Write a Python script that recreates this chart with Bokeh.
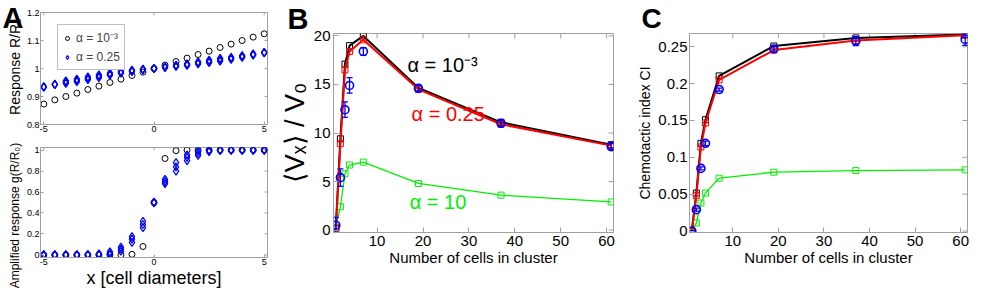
import math
from bokeh.plotting import figure
from bokeh.models import (Range1d, FixedTicker, Label, Legend, LegendItem,
                          Whisker, ColumnDataSource, TeeHead)
from bokeh.layouts import row, column
from bokeh.embed import file_html
from bokeh.resources import INLINE

# ---------------- data ----------------
# Panel A: positions along cluster (cell diameters)
a_x = [-5, -4.5, -4, -3.5, -3, -2.5, -2, -1.5, -1, -0.5, 0, 0.5, 1, 1.5, 2, 2.5, 3, 3.5, 4, 4.5, 5]
# Response R/R0, alpha = 1e-3
a_resp_black = [0.873, 0.888, 0.900, 0.912, 0.925, 0.937, 0.950, 0.962, 0.975, 0.987, 1.000,
                1.012, 1.025, 1.037, 1.050, 1.062, 1.075, 1.087, 1.100, 1.112, 1.124]
# Response R/R0, alpha = 0.25 (three realisations)
a_resp_blue_1 = [0.933, 0.942, 0.947, 0.953, 0.960, 0.967, 0.976, 0.983, 0.989, 0.995, 1.000,
                 1.003, 1.007, 1.011, 1.016, 1.021, 1.026, 1.032, 1.040, 1.048, 1.056]
a_resp_blue_2 = [0.934, 0.943, 0.951, 0.957, 0.965, 0.972, 0.980, 0.986, 0.991, 0.996, 1.000,
                 1.005, 1.009, 1.014, 1.020, 1.025, 1.031, 1.036, 1.043, 1.050, 1.057]
a_resp_blue_3 = [0.935, 0.944, 0.956, 0.962, 0.970, 0.977, 0.984, 0.990, 0.994, 0.998, 1.000,
                 1.007, 1.012, 1.017, 1.024, 1.030, 1.036, 1.040, 1.046, 1.052, 1.058]
# Amplified response g(R/R0)
a_amp_black = [0, 0, 0, 0, 0, 0, 0, 0, 0.005, 0.08, 0.5, 0.92, 0.995, 1, 1, 1, 1, 1, 1, 1, 1]
a_amp_blue_1 = [0, 0, 0, 0, 0, 0.002, 0.005, 0.035, 0.12, 0.26, 0.495, 0.68, 0.80, 0.90, 0.95,
                0.985, 0.997, 1, 1, 1, 1]
a_amp_blue_2 = [0, 0, 0, 0, 0, 0.005, 0.015, 0.055, 0.15, 0.29, 0.50, 0.70, 0.84, 0.93, 0.97,
                0.99, 0.999, 1, 1, 1, 1]
a_amp_blue_3 = [0, 0, 0, 0, 0.003, 0.01, 0.03, 0.075, 0.175, 0.32, 0.505, 0.72, 0.88, 0.955, 0.99,
                0.998, 1, 1, 1, 1, 1]
a_xticks = [-5, 0, 5]
a_xticklabels = ["-5", "0", "5"]
a_top_yticks = [0.8, 0.9, 1.0, 1.1, 1.2]
a_top_yticklabels = ["0.8", "0.9", "1", "1.1", "1.2"]
a_bot_yticks = [0, 0.2, 0.4, 0.6, 0.8, 1.0]
a_bot_yticklabels = ["0", "0.2", "0.4", "0.6", "0.8", "1"]

# Panels B and C: number of cells in cluster
n_cells = [1, 2, 3, 4, 7, 19, 37, 61]
vx_black = [0.2, 9.4, 17.1, 19.0, 20.0, 14.65, 11.1, 8.8]
vx_red = [0.1, 8.9, 16.5, 18.4, 19.6, 14.5, 10.9, 8.7]
vx_blue = [0.5, 5.4, 12.4, 14.9, 18.4, 14.6, 11.0, 8.6]
vx_blue_err = [0.8, 0.9, 0.8, 0.8, 0.4, 0.3, 0.3, 0.3]
vx_green = [0.3, 2.4, 5.8, 6.7, 7.0, 4.8, 3.6, 2.9]

ci_black = [0.0, 0.0515, 0.119, 0.151, 0.2105, 0.251, 0.262, 0.2665]
ci_red = [0.0, 0.048, 0.114, 0.1465, 0.205, 0.2455, 0.2586, 0.2655]
ci_blue = [0.0, 0.029, 0.085, 0.119, 0.192, 0.247, 0.2577, 0.260]
ci_blue_err = [0.001, 0.002, 0.002, 0.003, 0.002, 0.004, 0.006, 0.008]
ci_green = [0.0, 0.011, 0.038, 0.0515, 0.0717, 0.0798, 0.082, 0.083]

n_ticks = [10, 20, 30, 40, 50, 60]
n_ticklabels = ["10", "20", "30", "40", "50", "60"]
vx_ticks = [0, 5, 10, 15, 20]
vx_ticklabels = ["0", "5", "10", "15", "20"]
ci_ticks = [0, 0.05, 0.1, 0.15, 0.2, 0.25]
ci_ticklabels = ["0", "0.05", "0.1", "0.15", "0.2", "0.25"]

# ---------------- style ----------------
FONT = "Liberation Sans"
AX = "#a0a0a0"
BLACK, RED, BLUE, GREEN = "#000000", "#ff0000", "#0000ff", "#00f000"
TOTAL_W, TOTAL_H = 975, 292


class Panel:
    def __init__(self, w, h, left, right, top, bottom, xr, yr):
        self.fw = w - left - right
        self.fh = h - top - bottom
        self.xr, self.yr = xr, yr
        p = figure(width=w, height=h, min_border_left=left, min_border_right=right,
                   min_border_top=top, min_border_bottom=bottom,
                   x_range=Range1d(*xr), y_range=Range1d(*yr),
                   output_backend="svg", toolbar_location=None, tools="")
        p.title.visible = False
        p.xgrid.visible = False
        p.ygrid.visible = False
        p.outline_line_color = AX
        p.outline_line_width = 1
        p.background_fill_color = "white"
        p.border_fill_color = "white"
        self.p = p

    def mirror_ticks(self, xticks, yticks, L):
        dy = L / self.fh * (self.yr[1] - self.yr[0])
        dx = L / self.fw * (self.xr[1] - self.xr[0])
        top = self.yr[1]
        right = self.xr[1]
        self.p.segment(x0=xticks, y0=[top] * len(xticks), x1=xticks, y1=[top - dy] * len(xticks),
                       line_color=AX, line_width=1)
        self.p.segment(x0=[right] * len(yticks), y0=yticks, x1=[right - dx] * len(yticks), y1=yticks,
                       line_color=AX, line_width=1)


def style_axis(ax, ticks, labels, font_px, tick_len, standoff, label=None, label_px=None,
               label_standoff=0):
    ax.ticker = FixedTicker(ticks=ticks)
    ax.major_label_overrides = {t: l for t, l in zip(ticks, labels)}
    ax.major_label_text_font = FONT
    ax.major_label_text_font_size = font_px
    ax.major_label_text_color = "black"
    ax.major_label_standoff = standoff
    ax.major_tick_in = tick_len
    ax.major_tick_out = 0
    ax.minor_tick_line_color = None
    ax.axis_line_color = AX
    ax.major_tick_line_color = AX
    if label is not None:
        ax.axis_label = label
        ax.axis_label_text_font = FONT
        ax.axis_label_text_font_size = label_px
        ax.axis_label_text_font_style = "normal"
        ax.axis_label_text_color = "black"
        ax.axis_label_standoff = label_standoff


# ---------------- Panel A (top) ----------------
A1 = Panel(276, 140, 40, 9, 12, 16, (-5.15, 5.15), (0.8, 1.2))
pa1 = A1.p
style_axis(pa1.xaxis[0], a_xticks, a_xticklabels, "9px", 3, 1)
style_axis(pa1.yaxis[0], a_top_yticks, a_top_yticklabels, "9px", 3, 1)
A1.mirror_ticks(a_xticks, a_top_yticks, 3)
r_ab = pa1.scatter(a_x, a_resp_black, marker="circle", size=6, fill_color=None,
                   line_color=BLACK, line_width=1)
r_bl = None
for ys in (a_resp_blue_1, a_resp_blue_2, a_resp_blue_3):
    r = pa1.scatter(a_x, ys, marker="diamond", size=8, fill_color=None,
                    line_color=BLUE, line_width=1.2)
    if r_bl is None:
        r_bl = r
legend = Legend(items=[LegendItem(label="\u03b1 = 10\u207b\u00b3", renderers=[r_ab]),
                       LegendItem(label="\u03b1 = 0.25", renderers=[r_bl])],
                location=(17, 54), label_text_font=FONT, label_text_font_size="12px",
                label_height=16, glyph_height=14, glyph_width=10, label_standoff=4,
                padding=4, spacing=3, margin=0, border_line_color="#808080",
                border_line_width=1, background_fill_color="white")
pa1.add_layout(legend)

# ---------------- Panel A (bottom) ----------------
A2 = Panel(276, 152, 40, 9, 7, 35, (-5.15, 5.15), (-0.025, 1.025))
pa2 = A2.p
style_axis(pa2.xaxis[0], a_xticks, a_xticklabels, "9px", 3, 1,
           "x [cell diameters]", "18px", 0)
style_axis(pa2.yaxis[0], a_bot_yticks, a_bot_yticklabels, "9px", 3, 1)
A2.mirror_ticks(a_xticks, a_bot_yticks, 3)
pa2.scatter(a_x, a_amp_black, marker="circle", size=6, fill_color=None,
            line_color=BLACK, line_width=1)
for ys in (a_amp_blue_1, a_amp_blue_2, a_amp_blue_3):
    pa2.scatter(a_x, ys, marker="diamond", size=8, fill_color=None,
                line_color=BLUE, line_width=1.2)

# ---------------- Panel B ----------------
B = Panel(356, 292, 55, 19, 33, 60, (0.5, 61.5), (-0.25, 20.25))
pb = B.p
style_axis(pb.xaxis[0], n_ticks, n_ticklabels, "15px", 5, 3,
           "Number of cells in cluster", "15px", 0)
style_axis(pb.yaxis[0], vx_ticks, vx_ticklabels, "15px", 5, 3,
           "\u27e8V\u2093\u27e9 / V\u2080", "27px", 1)
B.mirror_ticks(n_ticks, vx_ticks, 5)


def series(p, x, y, color, lw):
    p.line(x, y, line_color=color, line_width=lw)
    p.scatter(x, y, marker="square", size=6, fill_color=None, line_color=color, line_width=1)


def blue_err(p, x, y, err):
    src = ColumnDataSource(dict(x=x, y=y,
                                lo=[v - e for v, e in zip(y, err)],
                                hi=[v + e for v, e in zip(y, err)]))
    p.add_layout(Whisker(source=src, base="x", upper="hi", lower="lo",
                         line_color=BLUE, line_width=1.3, level="glyph",
                         upper_head=TeeHead(size=6, line_color=BLUE, line_width=1.3),
                         lower_head=TeeHead(size=6, line_color=BLUE, line_width=1.3)))
    p.scatter("x", "y", source=src, marker="circle", size=8, fill_color=None,
              line_color=BLUE, line_width=1.6)


series(pb, n_cells, vx_green, GREEN, 1.3)
series(pb, n_cells, vx_black, BLACK, 2)
series(pb, n_cells, vx_red, RED, 2)
blue_err(pb, n_cells, vx_blue, vx_blue_err)

for txt, col, lx, ly in (("\u03b1 = 10\u207b\u00b3", BLACK, 16.6, 17.0),
                         ("\u03b1 = 0.25", RED, 17.5, 12.0),
                         ("\u03b1 = 10", GREEN, 17.1, 2.9)):
    pb.add_layout(Label(x=lx, y=ly, text=txt, text_color=col, text_font=FONT,
                        text_font_size="20px", text_align="left", text_baseline="middle"))

# ---------------- Panel C ----------------
C = Panel(343, 292, 57, 8, 33, 60, (0.5, 61.5), (-0.002, 0.268))
pc = C.p
style_axis(pc.xaxis[0], n_ticks, n_ticklabels, "15px", 5, 3,
           "Number of cells in cluster", "15px", 0)
style_axis(pc.yaxis[0], ci_ticks, ci_ticklabels, "15px", 5, 2,
           "Chemotactic index CI", "14px", 2)
C.mirror_ticks(n_ticks, ci_ticks, 5)
series(pc, n_cells, ci_green, GREEN, 1.3)
series(pc, n_cells, ci_black, BLACK, 2)
series(pc, n_cells, ci_red, RED, 2)
blue_err(pc, n_cells, ci_blue, ci_blue_err)

# ---------------- transparent overlay for panel letters & panel A y-labels ----------------
ov = figure(width=TOTAL_W, height=TOTAL_H, x_range=Range1d(0, TOTAL_W), y_range=Range1d(0, TOTAL_H),
            min_border=0, min_border_left=0, min_border_right=0, min_border_top=0,
            min_border_bottom=0, x_axis_location=None, y_axis_location=None,
            output_backend="svg", toolbar_location=None, tools="")
ov.title.visible = False
ov.xgrid.visible = False
ov.ygrid.visible = False
ov.outline_line_color = None
ov.background_fill_color = None
ov.border_fill_color = None
ov.margin = (-TOTAL_H, 0, 0, 0)


def ov_text(text, x_px, y_px, size, bold=False, angle=0.0, align="left"):
    # y_px is the vertical centre of the text, measured from the top
    ov.add_layout(Label(x=x_px, y=TOTAL_H - y_px, text=text, text_font=FONT, text_font_size=size,
                        text_font_style="bold" if bold else "normal", angle=angle,
                        text_align=align, text_baseline="middle", text_color="black"))


ov_text("A", 2, 17, "29px", bold=True)
ov_text("B", 287, 18, "29px", bold=True)
ov_text("C", 641, 18, "28px", bold=True)
ov_text("Response R/R\u2080", 14, 66, "14px", angle=math.pi / 2, align="center")
ov_text("Amplified response g(R/R\u2080)", 14, 215, "12px", angle=math.pi / 2, align="center")

main = row(column(pa1, pa2, spacing=0), pb, pc, spacing=0)
layout = column(main, ov, spacing=0)
open("out.html", "w").write(file_html(layout, INLINE))
